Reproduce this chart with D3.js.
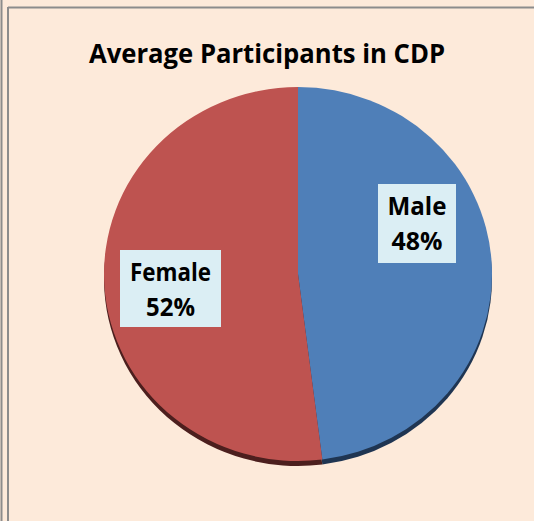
<!DOCTYPE html>
<html lang="en">
<head>
    <meta charset="UTF-8">
    <title>Average Participants in CDP</title>
    <script src="https://d3js.org/d3.v7.min.js"></script>
    <style>
        body { margin: 0; background: #fdeada; }
        text { font-family: "Open Sans", sans-serif; font-weight: bold; fill: #000; }
    </style>
</head>
<body>
    <div id="vis"></div>
    <script>

        var categories = ["Male", "Female"];
        var values = [48, 52];
        var labels = ["48%", "52%"];

        var width = 534;
        var height = 521;

        var topColors = ["#4f7fb8", "#be5350"];
        var sideColors = ["#1f3552", "#4c1f1e"];

        var svg = d3.select("#vis")
            .append("svg")
            .attr("width", width)
            .attr("height", height);

        // frame lines
        svg.append("rect").attr("x", 0).attr("y", 0).attr("width", width).attr("height", height).attr("fill", "#fdeada");
        svg.append("line").attr("x1", 1.5).attr("x2", 1.5).attr("y1", 0).attr("y2", height)
            .attr("stroke", "#8c8c8c").attr("stroke-width", 2);
        svg.append("line").attr("x1", 8).attr("x2", 8).attr("y1", 7).attr("y2", height)
            .attr("stroke", "#8c8c8c").attr("stroke-width", 2);
        svg.append("line").attr("x1", 8).attr("x2", width).attr("y1", 7.5).attr("y2", 7.5)
            .attr("stroke", "#8c8c8c").attr("stroke-width", 2);

        svg.append("text")
            .attr("x", 267)
            .attr("y", 63)
            .attr("text-anchor", "middle")
            .attr("font-size", 27)
            .attr("textLength", 356)
            .attr("lengthAdjust", "spacingAndGlyphs")
            .text("Average Participants in CDP");

        var cx = 298, cy = 274, rx = 194, ry = 187, depth = 5;

        var pie = d3.pie().sort(null).value(function(d) { return d; });
        var arcs = pie(values);
        var arc = d3.arc().innerRadius(0).outerRadius(rx);

        // side (depth) layer
        var side = svg.append("g")
            .attr("transform", "translate(" + cx + "," + (cy + depth) + ") scale(1," + (ry / rx) + ")");
        side.selectAll("path")
            .data(arcs)
            .enter()
            .append("path")
            .attr("d", arc)
            .attr("fill", function(d, i) { return sideColors[i]; });

        var pieG = svg.append("g")
            .attr("transform", "translate(" + cx + "," + cy + ") scale(1," + (ry / rx) + ")");
        pieG.selectAll("path")
            .data(arcs)
            .enter()
            .append("path")
            .attr("d", arc)
            .attr("fill", function(d, i) { return topColors[i]; });

        // label boxes
        var boxes = [
            { x: 378, y: 184, w: 78, h: 79, nameLen: 59, pctLen: 51 },
            { x: 120, y: 250, w: 101, h: 77, nameLen: 81, pctLen: 49 }
        ];

        var lab = svg.selectAll(".lab")
            .data(categories)
            .enter()
            .append("g")
            .attr("class", "lab");

        lab.append("rect")
            .attr("x", function(d, i) { return boxes[i].x; })
            .attr("y", function(d, i) { return boxes[i].y; })
            .attr("width", function(d, i) { return boxes[i].w; })
            .attr("height", function(d, i) { return boxes[i].h; })
            .attr("fill", "#dbeef4");

        lab.append("text")
            .attr("x", function(d, i) { return boxes[i].x + boxes[i].w / 2; })
            .attr("y", function(d, i) { return boxes[i].y + 31; })
            .attr("text-anchor", "middle")
            .attr("font-size", 25)
            .attr("textLength", function(d, i) { return boxes[i].nameLen; })
            .attr("lengthAdjust", "spacingAndGlyphs")
            .text(function(d) { return d; });

        lab.append("text")
            .attr("x", function(d, i) { return boxes[i].x + boxes[i].w / 2; })
            .attr("y", function(d, i) { return boxes[i].y + 66; })
            .attr("text-anchor", "middle")
            .attr("font-size", 25)
            .attr("textLength", function(d, i) { return boxes[i].pctLen; })
            .attr("lengthAdjust", "spacingAndGlyphs")
            .text(function(d, i) { return labels[i]; });

    </script>
</body>
</html>
